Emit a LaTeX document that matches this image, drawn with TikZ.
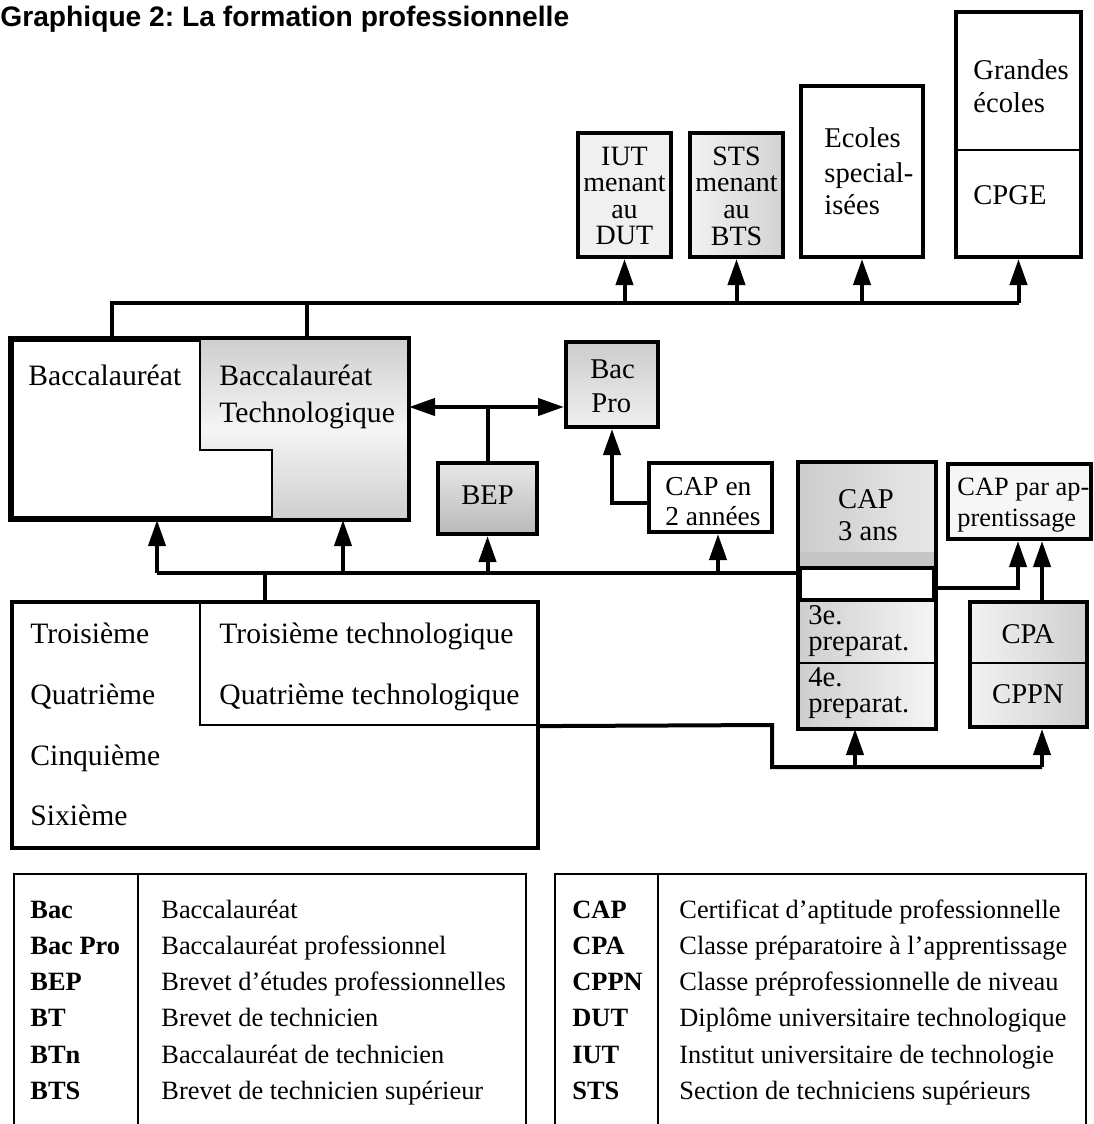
\documentclass[tikz,border=0pt]{standalone}
\usepackage{fontspec}
\setmainfont{Liberation Serif}
\newfontfamily\headfont{Liberation Sans}
\usetikzlibrary{arrows.meta,fit}
\frenchspacing
\newcommand\bodysize{\fontsize{14.3}{17}\selectfont}
\newcommand\widesize{\fontsize{14.8}{17}\selectfont}
\newcommand\narrowsize{\fontsize{13.2}{16}\selectfont}
\newcommand\keysize{\fontsize{13.2}{16}\selectfont}
\begin{document}
\begin{tikzpicture}[x=0.5pt,y=-0.5pt,
  frame/.style={draw, line width=2pt, inner sep=0pt},
  rule/.style={line width=1.1pt},
  conn/.style={line width=2pt},
  arr/.style={conn, -{Triangle[length=13pt,width=8.5pt]}},
  lbl/.style={font=\bodysize, inner sep=0pt},
  lblw/.style={lbl, anchor=base west},
  lblc/.style={lbl, anchor=base},
  wide/.style={font=\widesize, inner sep=0pt, anchor=base west},
  stacked/.style={font=\fontsize{14}{13.3}\selectfont, inner sep=0pt, align=center},
  key/.style={font=\keysize\bfseries, inner sep=0pt, anchor=base west},
  desc/.style={font=\keysize, inner sep=0pt, anchor=base west},
  legend/.style={line width=1.3pt},
]
\useasboundingbox (0,0) rectangle (1093,1124);

% heading
\node[font=\headfont\bfseries\fontsize{14.1}{16}\selectfont, anchor=base west, inner sep=0pt]
  (title) at (0,26) {Graphique 2: La formation professionnelle};

% ---------- higher education ----------
\node[frame, fill=gray!12, fit={(578,133) (671,257)}] (iut) {};
\node[frame, left color=gray!10, right color=gray!35, fit={(690,133) (783,257)}] (sts) {};
\node[frame, fill=white, fit={(801,86) (923,257)}] (es) {};
\node[frame, fill=white, fit={(956,12) (1081,257)}] (ge) {};
\draw[line width=1.4pt] (956,150) -- (1081,150);

\node[stacked] (iutt) at (624.5,196) {IUT\\menant\\au\\DUT};
\node[stacked] (stst) at (736.5,196) {STS\\menant\\au\\BTS};
\node[lblw] (es1) at (824,147) {Ecoles};
\node[lblw] (es2) at (824,182) {special-};
\node[lblw] (es3) at (824,214) {isées};
\node[lblw] (ge1) at (973,79) {Grandes};
\node[lblw] (ge2) at (973,112) {écoles};
\node[lblw] (ge3) at (973,204) {CPGE};

% ---------- baccalaureate ----------
\node[frame, fit={(12,340) (407,518)}] (bac) {};
\fill[top color=gray!38, bottom color=gray!38, middle color=gray!8]
  (200,340) -- (407,340) -- (407,518) -- (272,518) -- (272,450) -- (200,450) -- cycle;
\draw[rule] (200,340) -- (200,450) -- (272,450) -- (272,518);
\draw[line width=2pt] (bac.south west) rectangle (bac.north east);
\node[wide] (bac1) at (28,385) {Baccalauréat};
\node[wide] (bt1) at (219,385) {Baccalauréat};
\node[wide] (bt2) at (219,422) {Technologique};

\node[frame, top color=gray!40, bottom color=gray!12, fit={(566,342) (658,427)}] (bacpro) {};
\node[lblw] (bp1) at (590,378) {Bac};
\node[lblw] (bp2) at (591,412) {Pro};

\node[frame, top color=gray!18, bottom color=gray!55, fit={(438,463) (537,534)}] (bep) {};
\node[lblc] (bep1) at (487.5,504) {BEP};

\node[frame, fill=white, fit={(649,463) (772,532)}] (cap2) {};
\node[lblw, font=\fontsize{13.7}{16}\selectfont] (c21) at (665,495) {CAP en};
\node[lblw, font=\fontsize{13.7}{16}\selectfont] (c22) at (665,525) {2 années};

% CAP 3 ans column
\node[frame, fit={(800,464) (934,727)}] (stack) {};
\fill[left color=gray!40, right color=gray!18] (800,464) rectangle (934,568);
\fill[gray!45] (800,552) rectangle (934,568);
\fill[left color=gray!38, right color=gray!8] (800,600) rectangle (934,727);
\draw[line width=2pt] (800,568) -- (934,568);
\draw[line width=1.6pt] (800,600) -- (934,600);
\draw[rule] (800,663) -- (934,663);
\draw[line width=2pt] (stack.south west) rectangle (stack.north east);
\node[lblc] (c31) at (866,508) {CAP};
\node[lblc] (c32) at (868,540) {3 ans};
\node[lblw] (p31) at (808,624) {3e.};
\node[lblw] (p32) at (808,650) {preparat.};
\node[lblw] (p41) at (808,686) {4e.};
\node[lblw] (p42) at (808,712) {preparat.};

\node[frame, fill=gray!7, fit={(948,464) (1091,539)}] (capa) {};
\node[lblw, font=\narrowsize] (ca1) at (957,495) {CAP par ap-};
\node[lblw, font=\narrowsize] (ca2) at (957,526) {prentissage};

\node[frame, left color=gray!10, right color=gray!38, fit={(970,602) (1087,727)}] (cpa) {};
\draw[rule] (970,663) -- (1087,663);
\node[lblc] (cpa1) at (1028,643) {CPA};
\node[lblc] (cpa2) at (1028,703) {CPPN};

% ---------- lower secondary ----------
\node[draw, rule, inner sep=0pt, fit={(200,602) (538,725)}] (tech) {};
\node[draw, line width=1.6pt, inner sep=0pt, fit={(12,602) (538,848)}] (sec) {};
\node[wide] (s1) at (30,643) {Troisième};
\node[wide] (s2) at (30,704) {Quatrième};
\node[wide] (s3) at (30,765) {Cinquième};
\node[wide] (s4) at (30,825) {Sixième};
\node[wide] (t1) at (219,643) {Troisième technologique};
\node[wide] (t2) at (219,704) {Quatrième technologique};

% ---------- connectors ----------
% bus above the baccalaureate
\coordinate (busA) at (112,303);
\coordinate (busB) at (307,303);
\draw[conn] (bac.north -| busA) -- (busA) -- (busA -| ge.south);
\draw[conn] (bac.north -| busB) -- (busB);
\foreach \n in {iut,sts,es,ge}
  \draw[arr] (\n.south |- busA) -- (\n.south);

% BEP to both baccalaureates
\coordinate (jb) at (487.5,407);
\draw[conn] (bep.north) -- (jb);
\draw[arr] (jb) -- (bac.east |- jb);
\draw[arr] (jb) -- (bacpro.west |- jb);

% CAP en 2 annees to Bac Pro
\coordinate (kp) at (612,503);
\draw[arr] (cap2.west |- kp) -- (kp) -- (kp |- bacpro.south);

% bus out of troisieme
\coordinate (m0) at (265,573);
\coordinate (mL) at (157,573);
\coordinate (m2) at (343,573);
\coordinate (m4) at (718,573);
\draw[conn] (sec.north -| m0) -- (m0);
\draw[conn] (mL) -- (mL -| stack.west);
\draw[arr] (mL) -- (mL |- bac.south);
\draw[arr] (m2) -- (m2 |- bac.south);
\draw[arr] (bep.south |- mL) -- (bep.south);
\draw[arr] (m4) -- (m4 |- cap2.south);

% to CAP par apprentissage
\coordinate (sa) at (1018,588);
\draw[arr] (stack.east |- sa) -- (sa) -- (sa |- capa.south);
\coordinate (cx) at (1042,767);
\draw[arr] (cpa.north -| cx) -- (capa.south -| cx);

% bus out of quatrieme technologique
\coordinate (lb1) at (772,725);
\coordinate (lb2) at (772,767);
\coordinate (lp) at (855,767);
\draw[conn] (tech.south east) -- (lb1) -- (lb2) -- (cx);
\draw[arr] (lp) -- (lp |- stack.south);
\draw[arr] (cx) -- (cx |- cpa.south);

% ---------- legend ----------
\coordinate (la) at (14,874);
\coordinate (lb) at (526,874);
\coordinate (lc) at (555,874);
\coordinate (ld) at (1086,874);
\draw[legend] (la |- 0,1130) -- (la) -- (lb) -- (lb |- 0,1130);
\draw[legend] (lc |- 0,1130) -- (lc) -- (ld) -- (ld |- 0,1130);
\draw[line width=1pt] (138,874) -- (138,1130);
\draw[line width=1pt] (658,874) -- (658,1130);

\foreach \k/\d [count=\i from 0] in
  {Bac/Baccalauréat, Bac Pro/Baccalauréat professionnel,
   BEP/Brevet d’études professionnelles, BT/Brevet de technicien,
   BTn/Baccalauréat de technicien, BTS/Brevet de technicien supérieur}
{
  \node[key] (lk\i) at (30,918+36.3*\i) {\k};
  \node[desc] (ld\i) at (161,918+36.3*\i) {\d};
}
\foreach \k/\d [count=\i from 0] in
  {CAP/Certificat d’aptitude professionnelle, CPA/Classe préparatoire à l’apprentissage,
   CPPN/Classe préprofessionnelle de niveau, DUT/Diplôme universitaire technologique,
   IUT/Institut universitaire de technologie, STS/Section de techniciens supérieurs}
{
  \node[key] (rk\i) at (572,918+36.3*\i) {\k};
  \node[desc] (rd\i) at (679,918+36.3*\i) {\d};
}
\end{tikzpicture}
\end{document}
